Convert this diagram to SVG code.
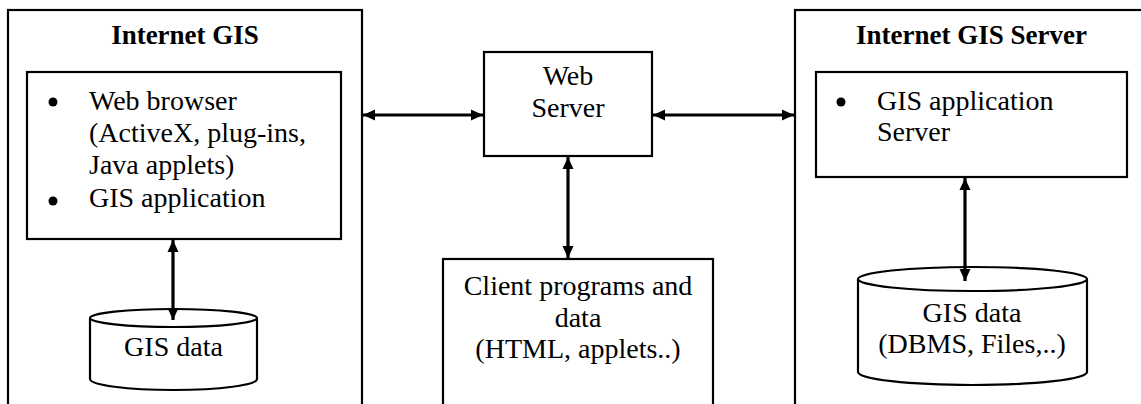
<svg xmlns="http://www.w3.org/2000/svg" width="1141" height="404" viewBox="0 0 1141 404">
<style>
.box{fill:#fff;stroke:#000;stroke-width:2.2}
.t{font-family:"Liberation Serif","Times New Roman",serif;font-size:28px;fill:#000}
.b{font-weight:bold;font-size:27px}
.c{text-anchor:middle}
.con{stroke:#000;stroke-width:3.2;fill:none;marker-start:url(#ah);marker-end:url(#ah)}
</style>
<defs>
<marker id="ah" markerUnits="userSpaceOnUse" markerWidth="14" markerHeight="12" refX="12" refY="6" orient="auto-start-reverse">
<path d="M0,0.5 L12,6 L0,11.5 z" fill="#000"/>
</marker>
</defs>
<rect width="1141" height="404" fill="#fff"/>
<g id="internet-gis">
<rect class="box" x="8" y="10" width="354" height="410"/>
<text class="t b c" x="185" y="44">Internet GIS</text>
</g>
<g id="client-app">
<rect class="box" x="27" y="72" width="314" height="167"/>
<circle cx="53" cy="102" r="4.5"/>
<circle cx="53" cy="201" r="4.5"/>
<text class="t" x="89" y="110">Web browser</text>
<text class="t" x="89" y="142">(ActiveX, plug-ins,</text>
<text class="t" x="89" y="174">Java applets)</text>
<text class="t" x="89" y="207">GIS application</text>
</g>
<g id="client-data">
<path class="box" d="M90,318 A83.5,9 0 0 1 257,318 A83.5,9 0 0 1 90,318 M90,318 L90,379 A83.5,11 0 0 0 257,379 L257,318"/>
<text class="t c" x="173.5" y="356">GIS data</text>
</g>
<g id="web-server">
<rect class="box" x="484" y="52" width="168" height="104"/>
<text class="t c" x="568" y="85">Web</text>
<text class="t c" x="568" y="117">Server</text>
</g>
<g id="client-programs">
<rect class="box" x="443" y="259" width="270" height="160"/>
<text class="t c" x="578" y="295">Client programs and</text>
<text class="t c" x="578" y="327">data</text>
<text class="t c" x="578" y="358">(HTML, applets..)</text>
</g>
<g id="internet-gis-server">
<rect class="box" x="795" y="10" width="360" height="410"/>
<text class="t b c" x="971.5" y="44">Internet GIS Server</text>
</g>
<g id="gis-app-server">
<rect class="box" x="816" y="72" width="311" height="105"/>
<circle cx="841" cy="102" r="4.5"/>
<text class="t" x="877" y="110">GIS application</text>
<text class="t" x="877" y="141">Server</text>
</g>
<g id="server-data">
<path class="box" d="M858,279 A114.5,12 0 0 1 1087,279 A114.5,12 0 0 1 858,279 M858,279 L858,372 A114.5,13 0 0 0 1087,372 L1087,279"/>
<text class="t c" x="972" y="322">GIS data</text>
<text class="t c" x="972" y="353">(DBMS, Files,..)</text>
</g>
<g id="connectors">
<line class="con" x1="363" y1="115" x2="483" y2="115"/>
<line class="con" x1="653" y1="115" x2="794" y2="115"/>
<line class="con" x1="568" y1="157" x2="568" y2="258"/>
<line class="con" x1="173" y1="240" x2="173" y2="320"/>
<line class="con" x1="965" y1="178" x2="965" y2="281"/>
</g>
</svg>
